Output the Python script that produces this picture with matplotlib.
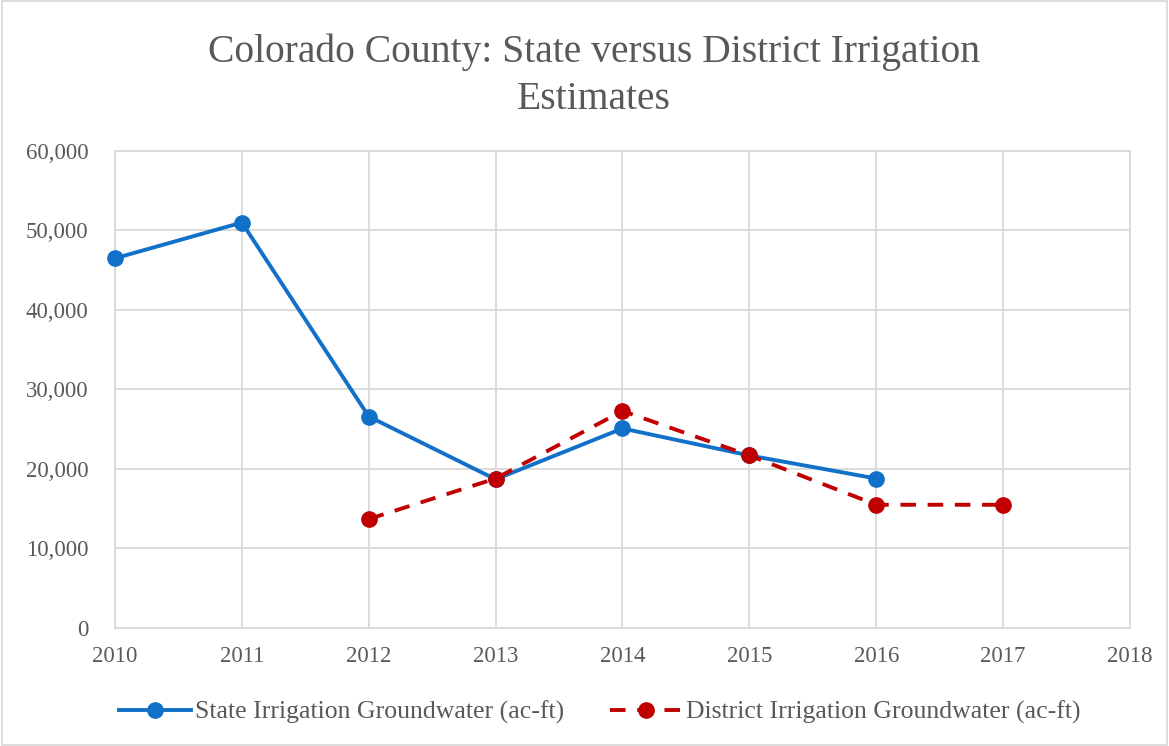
import matplotlib.pyplot as plt
from matplotlib.patches import Rectangle
from matplotlib.ticker import FuncFormatter

years_state = [2010, 2011, 2012, 2013, 2014, 2015, 2016]
state_values = [46500, 51000, 26600, 18700, 25100, 21700, 18800]

years_district = [2012, 2013, 2014, 2015, 2016, 2017]
district_values = [13700, 18800, 27300, 21700, 15500, 15500]

x_ticks = [2010, 2011, 2012, 2013, 2014, 2015, 2016, 2017, 2018]
y_ticks = [0, 10000, 20000, 30000, 40000, 50000, 60000]

text_color = '#595959'
grid_color = '#d9d9d9'

plt.rcParams['font.family'] = ['Liberation Serif', 'DejaVu Serif']

fig = plt.figure(figsize=(11.69, 7.46), dpi=100)
ax = fig.add_axes([0.0984, 0.1582, 0.8682, 0.6394])

ax.plot(years_state, state_values, color='#1170c8', linewidth=2.8,
        marker='o', markersize=11, label='State Irrigation Groundwater (ac-ft)',
        zorder=3, clip_on=False)
ax.plot(years_district, district_values, color='#c00000', linewidth=2.8,
        linestyle=(0, (4, 3)), marker='o', markersize=11,
        label='District Irrigation Groundwater (ac-ft)', zorder=3, clip_on=False)

ax.set_xlim(2010, 2018)
ax.set_ylim(0, 60000)
ax.set_xticks(x_ticks)
ax.set_yticks(y_ticks)
ax.yaxis.set_major_formatter(FuncFormatter(lambda v, p: '{:,.0f}'.format(v)))
ax.grid(True, color=grid_color, linewidth=1.3)
ax.set_axisbelow(True)
for side in ['top', 'right', 'left', 'bottom']:
    ax.spines[side].set_color(grid_color)
    ax.spines[side].set_linewidth(1.3)
ax.tick_params(axis='both', length=0, labelsize=16.5, labelcolor=text_color)
ax.tick_params(axis='x', pad=13)
ax.tick_params(axis='y', pad=19)

fig.suptitle('Colorado County: State versus District Irrigation\nEstimates',
             x=0.508, y=0.955, va='top', fontsize=28.5, color=text_color,
             linespacing=1.35)

fig.legend(loc='center', bbox_to_anchor=(0.513, 0.045), ncol=2, frameon=False,
           fontsize=18.5, labelcolor=text_color, handlelength=2.8,
           columnspacing=1.8, handletextpad=0.15)

fig.patches.append(Rectangle((0.002, 0.002), 0.996, 0.996, transform=fig.transFigure,
                             fill=False, edgecolor=grid_color, linewidth=1.3))

fig.savefig('out.png', dpi=100)
